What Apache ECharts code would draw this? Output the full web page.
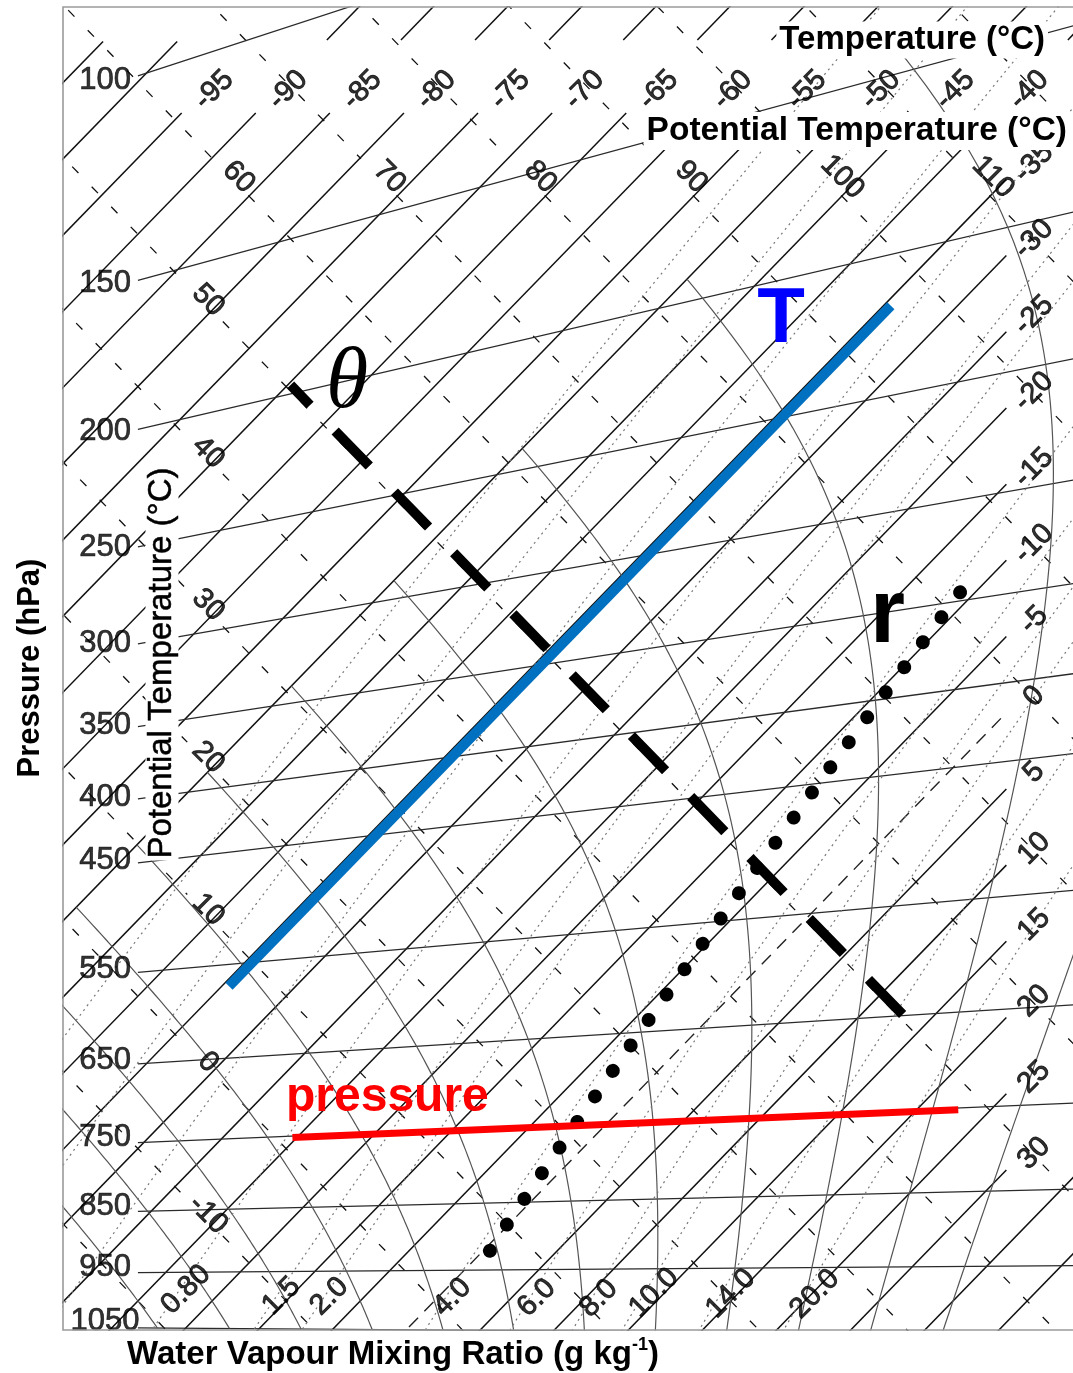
<!DOCTYPE html>
<html>
<head>
<meta charset="utf-8">
<script src="https://cdn.jsdelivr.net/npm/echarts@6/dist/echarts.min.js"></script>
<style>
html,body{margin:0;padding:0;background:#fff;}
#chart{width:1073px;height:1373px;}
</style>
</head>
<body>
<div id="chart"></div>
<script>
// ---------------- data (diagram values) ----------------
const isobarLevels = [100, 150, 200, 250, 300, 350, 400, 450, 550, 650, 750, 850, 950, 1050];
const isotherms = [-105, -100, -95, -90, -85, -80, -75, -70, -65, -60, -55, -50, -45, -40, -35, -30, -25, -20, -15, -10, -5, 0, 5, 10, 15, 20, 25, 30, 35, 40];
const topIsothermLabels = [-95, -90, -85, -80, -75, -70, -65, -60, -55, -50, -45, -40];
const rightIsothermLabels = [-35, -30, -25, -20, -15, -10, -5, 0, 5, 10, 15, 20, 25, 30];
const shortTopIsotherms = [-105, -100, -95];   // these stop just below the top frame
const dashedIsotherms = [0];
const dryAdiabats = [-20, -10, 0, 10, 20, 30, 40, 50, 60, 70, 80, 90, 100, 110, 120];
const thetaTopLabels = [60, 70, 80, 90, 100, 110];
const thetaLeftLabels = [50, 40, 30, 20, 10, 0, -10];
const mixingRatios = [0.1, 0.2, 0.4, 0.8, 1.5, 2.0, 4.0, 6.0, 8.0, 10.0, 14.0, 20.0];
const mixingRatioLabelValues = [0.8, 1.5, 2.0, 4.0, 6.0, 8.0, 10.0, 14.0, 20.0];
const mixingRatioLabelTexts = ['0.80', '1.5', '2.0', '4.0', '6.0', '8.0', '10.0', '14.0', '20.0'];
const wetBulbThetas = [-20, -15, -10, -5, 0, 5, 10, 15, 20, 25, 30, 35];
const saturatedAdiabatMinT = [-50];        // curves stop at this temperature

// highlighted example lines
const highlightIsotherm = [-34.5];          // deg C
const highlightIsothermP = [572, 217];      // hPa range
const highlightTheta = [50.4];              // deg C
const highlightThetaT = [12.8, -69.8];      // temperature range
const highlightMixing = [4.3];              // g/kg
const highlightMixingP = [920, 345];        // hPa range
const highlightIsobar = [752];              // hPa
const highlightIsobarT = [-20.3, 22.8];     // temperature range

// ---------------- thermodynamics ----------------
const KAPPA = 0.2857, C2K = 273.15;
function thetaOf(T, p) { return (T + C2K) * Math.pow(1000 / p, KAPPA) - C2K; }
function xy(T, th) { return [T + th, th - T]; }       // tephigram axes: X = T+theta, Y = theta-T
function esWater(T) { return 6.112 * Math.exp(17.67 * T / (T + 243.5)); }
function tFromE(e) {
  const L = Math.log(e / 6.112);
  let T = 243.5 * L / (17.67 - L);
  if (T < 0) T = 272.62 * L / (22.46 - L);
  return T;
}
function dTdp(TK, p) {
  const e = esWater(TK - C2K);
  const rs = 0.622 * e / (p - e);
  const Rd = 287.04, Cp = 1005.7, Lv = 2.501e6, eps = 0.622;
  return ((Rd * TK + Lv * rs) / p) / (Cp + (Lv * Lv * rs * eps) / (Rd * TK * TK));
}
function isobarPoint(p, X) {
  const m = Math.pow(1000 / p, KAPPA);
  const TK = (X + 2 * C2K) / (1 + m);
  return [X, TK * (m - 1)];
}
function mixingPoint(r, p) {
  const e = r * p / (622 + r);
  const T = tFromE(e);
  return xy(T, thetaOf(T, p));
}
function mixingLine(r, p1, p2, step) {
  const pts = [];
  const dir = p2 < p1 ? -1 : 1;
  for (let p = p1; dir < 0 ? p >= p2 - 1e-6 : p <= p2 + 1e-6; p += dir * step) pts.push(mixingPoint(r, p));
  return pts;
}
function pseudoAdiabat(tw, minT) {
  let T = tw + C2K;
  for (let p = 1000; p < 1050; p += 5) {
    const k1 = dTdp(T, p), k2 = dTdp(T + 5 * k1, p + 5);
    T += 5 * (k1 + k2) / 2;
  }
  const pts = [];
  let prevT = null;
  for (let p = 1050; p >= 100; p -= 5) {
    const Tc = T - C2K;
    if (Tc < minT) {
      if (prevT !== null) {
        const pc = p + 5 * (minT - Tc) / (prevT - Tc);
        pts.push(xy(minT, thetaOf(minT, pc)));
      }
      break;
    }
    pts.push(xy(Tc, thetaOf(Tc, p)));
    prevT = Tc;
    const k1 = dTdp(T, p), k2 = dTdp(T - 5 * k1, p - 5);
    T -= 5 * (k1 + k2) / 2;
  }
  return pts;
}

// ---------------- layout ----------------
const FONT = '"Liberation Sans", Arial, Helvetica, sans-serif';
const GRID_L = 63, GRID_T = 7, GRID_W = 1010, GRID_H = 1323;
const PX_PER_X = 7.41;
const X_MIN = -50.11, X_MAX = X_MIN + GRID_W / PX_PER_X, Y_MIN = -3.806, Y_MAX = 169.82;
const PX_PER_Y = GRID_H / (Y_MAX - Y_MIN);
const ISO_TOP_GAP = [155.9, 165.5];   // Y range hidden behind top isotherm labels
const ISO_SHORT_TOP = 165.3;
const ISO_TOP_LABEL_Y = 159.2;
const ISO_RIGHT_END = 77.2, ISO_RIGHT_LABEL_X = 81.2;
const TH_TOP_LABEL_Y = 147.5, TH_LEFT_LABEL_X = -30.94, TH_GAP = 2.4;
const ISOBAR_START_X = -40.0, ISOBAR_LABEL_X = -44.43;
const dX = px => px / PX_PER_X, dY = px => -px / PX_PER_Y;   // screen-pixel nudges in data units

const series = [];
function addLine(points, style, z) {
  series.push({
    type: 'line', data: points, symbol: 'none', silent: true, animation: false,
    clip: true, z: z || 2, lineStyle: style, emphasis: { disabled: true }
  });
  return series.length - 1;
}

// isotherms
const isoStyle = { color: '#111', width: 1.5 };
isotherms.forEach(T => {
  const style = dashedIsotherms.includes(T) ? { color: '#222', width: 1.4, type: [13, 9] } : isoStyle;
  const pt = Y => [Y + 2 * T, Y];
  const ptX = X => [X, X - 2 * T];
  const short = shortTopIsotherms.includes(T);
  if (topIsothermLabels.includes(T)) {
    addLine([pt(-20), pt(ISO_TOP_GAP[0])], style);
    if (!short) addLine([pt(ISO_TOP_GAP[1]), pt(190)], style);
  } else if (rightIsothermLabels.includes(T)) {
    addLine([ptX(-80), ptX(ISO_RIGHT_END)], style);
  } else {
    addLine([pt(-20), pt(short ? ISO_SHORT_TOP : 190)], style);
  }
});

// dry adiabats (short dashes)
const dryStyle = { color: '#111', width: 1.3, type: [9, 19] };
dryAdiabats.forEach(th => {
  const pt = T => xy(T, th);
  let gapT = null;
  if (thetaTopLabels.includes(th)) gapT = th - TH_TOP_LABEL_Y;
  if (thetaLeftLabels.includes(th)) gapT = TH_LEFT_LABEL_X - th;
  if (gapT === null) addLine([pt(-170), pt(90)], dryStyle);
  else {
    addLine([pt(-170), pt(gapT - TH_GAP)], dryStyle);
    addLine([pt(gapT + TH_GAP), pt(90)], dryStyle);
  }
});

// isobars
isobarLevels.forEach(p => {
  addLine([isobarPoint(p, ISOBAR_START_X), isobarPoint(p, 100)], { color: '#2a2a2a', width: 1.25 });
});

// saturated (pseudo) adiabats
wetBulbThetas.forEach(tw => addLine(pseudoAdiabat(tw, saturatedAdiabatMinT[0]), { color: '#555', width: 1.2 }));

// mixing ratio lines
mixingRatios.forEach(r => addLine(mixingLine(r, 1050, 100, 10), { color: '#777', width: 1.2, type: [2, 4] }));

// ---- highlighted lines ----
addLine(highlightIsothermP.map(p => xy(highlightIsotherm[0], thetaOf(highlightIsotherm[0], p))),
  { color: '#0070C0', width: 10, cap: 'butt' }, 10);
addLine(highlightThetaT.map(T => xy(T, highlightTheta[0])),
  { color: '#000', width: 10, type: [49, 36], cap: 'butt' }, 10);
const rPoints = mixingLine(highlightMixing[0], highlightMixingP[0], highlightMixingP[1], 5);
const rIndex = addLine(rPoints, { color: '#000', width: 14, type: [0.001, 31.5], cap: 'round' }, 10);
addLine(highlightIsobarT.map(T => { const p = highlightIsobar[0]; return xy(T, thetaOf(T, p)); }),
  { color: '#FF0000', width: 7, cap: 'butt' }, 10);

// ---- tick labels ----
function labelSeries(items, labelOpts) {
  series.push({
    type: 'scatter', symbolSize: 0, silent: true, animation: false, clip: false, z: 12,
    data: items.map(it => ({ value: it.v, label: { formatter: it.t } })),
    label: Object.assign({
      show: true, position: 'inside', color: '#000', fontFamily: FONT, fontSize: 29,
      textBorderColor: '#000', textBorderWidth: 0.9
    }, labelOpts)
  });
}
labelSeries(topIsothermLabels.map(T => ({ v: [ISO_TOP_LABEL_Y + 2 * T + dX(8), ISO_TOP_LABEL_Y + dY(2)], t: String(T) })),
  { rotate: 45 });
labelSeries(rightIsothermLabels.map(T => ({ v: [ISO_RIGHT_LABEL_X + dX(-2), ISO_RIGHT_LABEL_X - 2 * T + dY(14)], t: String(T) })),
  { rotate: 45 });
labelSeries(thetaTopLabels.map(th => { const p = xy(th - TH_TOP_LABEL_Y, th); return { v: [p[0] + dX(8 + 0.27 * (th - 60)), p[1]], t: String(th) }; }),
  { rotate: -45 });
labelSeries(thetaLeftLabels.map(th => { const p = xy(TH_LEFT_LABEL_X - th, th); return { v: [p[0] + dX(3), p[1] + dY(-3)], t: String(th) }; }),
  { rotate: -45 });
labelSeries(isobarLevels.map(p => ({ v: isobarPoint(p, ISOBAR_LABEL_X), t: String(p) })),
  { align: 'center', verticalAlign: 'middle', offset: [0, -6], fontSize: 31, textBorderWidth: 0.7 });
labelSeries(mixingRatioLabelValues.map((r, i) => ({ v: mixingPoint(r, 1050), t: mixingRatioLabelTexts[i] })),
  { rotate: 45, align: 'left', verticalAlign: 'middle', offset: [22, -4] });

// ---------------- chart ----------------
const chart = echarts.init(document.getElementById('chart'), null, { renderer: 'canvas' });
const option = {
  animation: false,
  backgroundColor: '#fff',
  grid: { left: GRID_L, top: GRID_T, width: GRID_W, height: GRID_H, show: false, outerBoundsMode: 'none', containLabel: false },
  xAxis: { type: 'value', min: X_MIN, max: X_MAX, show: false },
  yAxis: { type: 'value', min: Y_MIN, max: Y_MAX, show: false },
  series: series,
  graphic: [
    { type: 'polyline', z: 40, silent: true, shape: { points: [[GRID_L + GRID_W + 5, GRID_T], [GRID_L, GRID_T], [GRID_L, GRID_T + GRID_H], [GRID_L + GRID_W + 5, GRID_T + GRID_H]] }, style: { stroke: '#9a9a9a', lineWidth: 1.6, fill: null } },
    { type: 'text', x: 1048, y: 40, z: 50, style: { text: 'Temperature (°C)', fontFamily: FONT, fontWeight: 'bold', fontSize: 33, fill: '#000', align: 'right', verticalAlign: 'middle', backgroundColor: '#fff', padding: [2, 3] } },
    { type: 'text', x: 1070, y: 131, z: 50, style: { text: 'Potential Temperature (°C)', fontFamily: FONT, fontWeight: 'bold', fontSize: 33.5, fill: '#000', align: 'right', verticalAlign: 'middle', backgroundColor: '#fff', padding: [2, 3] } },
    { type: 'text', x: 30, y: 668, rotation: Math.PI / 2, z: 50, style: { text: 'Pressure (hPa)', fontFamily: FONT, fontWeight: 'bold', fontSize: 31, fill: '#000', align: 'center', verticalAlign: 'middle' } },
    { type: 'text', x: 162, y: 663, rotation: Math.PI / 2, z: 50, style: { text: 'Potential Temperature (°C)', fontFamily: FONT, fontSize: 33, fill: '#000', align: 'center', verticalAlign: 'middle', backgroundColor: '#fff', padding: [0, 2], stroke: '#000', lineWidth: 0.5 } },
    { type: 'text', x: 393, y: 1355, z: 50, style: {
        text: '{a|Water Vapour Mixing Ratio (g kg}{s|-1}{a|)}', align: 'center', verticalAlign: 'middle',
        rich: {
          a: { fontFamily: FONT, fontWeight: 'bold', fontSize: 33, fill: '#000', lineHeight: 38 },
          s: { fontFamily: FONT, fontWeight: 'bold', fontSize: 18, fill: '#000', verticalAlign: 'top', lineHeight: 38 }
        } } },
    { type: 'text', x: 781, y: 320, z: 60, style: { text: 'T', fontFamily: FONT, fontWeight: 'bold', fontSize: 78, fill: '#0000FF', align: 'center', verticalAlign: 'middle' } },
    { type: 'text', x: 347, y: 384, z: 60, style: { text: 'θ', fontFamily: '"Liberation Serif", "Times New Roman", serif', fontStyle: 'italic', fontSize: 86, fill: '#000', align: 'center', verticalAlign: 'middle' } },
    { type: 'text', x: 870, y: 617, z: 60, style: { text: 'r', fontFamily: FONT, fontWeight: 'bold', fontSize: 90, fill: '#000', align: 'left', verticalAlign: 'middle' } },
    { type: 'text', x: 286, y: 1098, z: 60, style: { text: 'pressure', fontFamily: FONT, fontWeight: 'bold', fontSize: 48, fill: '#FF0000', align: 'left', verticalAlign: 'middle' } }
  ]
};
chart.setOption(option);

// make the dotted r-line end exactly on a dot: spread dots evenly over its pixel length
let len = 0;
for (let i = 1; i < rPoints.length; i++) {
  const a = chart.convertToPixel({ gridIndex: 0 }, rPoints[i - 1]);
  const b = chart.convertToPixel({ gridIndex: 0 }, rPoints[i]);
  len += Math.hypot(b[0] - a[0], b[1] - a[1]);
}
const nDots = Math.max(1, Math.round(len / 31.5));
series[rIndex].lineStyle.type = [0.001, len / nDots - 0.001 - 0.05];
chart.setOption({ series: series });
</script>
</body>
</html>
